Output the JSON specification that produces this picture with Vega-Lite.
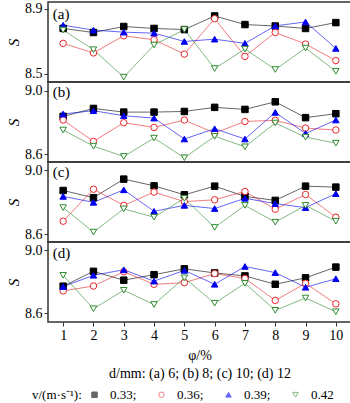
{
  "$schema": "https://vega.github.io/schema/vega-lite/v6.json",
  "padding": {"left": 5, "right": 1, "top": 1, "bottom": 0},
  "data": {"values": [
    {"d":"a","v":"0.33","phi":1,"S":8.78},{"d":"a","v":"0.33","phi":2,"S":8.755},{"d":"a","v":"0.33","phi":3,"S":8.792},{"d":"a","v":"0.33","phi":4,"S":8.78},{"d":"a","v":"0.33","phi":5,"S":8.773},{"d":"a","v":"0.33","phi":6,"S":8.857},{"d":"a","v":"0.33","phi":7,"S":8.804},{"d":"a","v":"0.33","phi":8,"S":8.795},{"d":"a","v":"0.33","phi":9,"S":8.78},{"d":"a","v":"0.33","phi":10,"S":8.816},
    {"d":"a","v":"0.36","phi":1,"S":8.688},{"d":"a","v":"0.36","phi":2,"S":8.629},{"d":"a","v":"0.36","phi":3,"S":8.735},{"d":"a","v":"0.36","phi":4,"S":8.71},{"d":"a","v":"0.36","phi":5,"S":8.622},{"d":"a","v":"0.36","phi":6,"S":8.84},{"d":"a","v":"0.36","phi":7,"S":8.608},{"d":"a","v":"0.36","phi":8,"S":8.755},{"d":"a","v":"0.36","phi":9,"S":8.684},{"d":"a","v":"0.36","phi":10,"S":8.582},
    {"d":"a","v":"0.39","phi":1,"S":8.8},{"d":"a","v":"0.39","phi":2,"S":8.77},{"d":"a","v":"0.39","phi":3,"S":8.757},{"d":"a","v":"0.39","phi":4,"S":8.751},{"d":"a","v":"0.39","phi":5,"S":8.7},{"d":"a","v":"0.39","phi":6,"S":8.714},{"d":"a","v":"0.39","phi":7,"S":8.688},{"d":"a","v":"0.39","phi":8,"S":8.796},{"d":"a","v":"0.39","phi":9,"S":8.82},{"d":"a","v":"0.39","phi":10,"S":8.657},
    {"d":"a","v":"0.42","phi":1,"S":8.77},{"d":"a","v":"0.42","phi":2,"S":8.649},{"d":"a","v":"0.42","phi":3,"S":8.48},{"d":"a","v":"0.42","phi":4,"S":8.678},{"d":"a","v":"0.42","phi":5,"S":8.773},{"d":"a","v":"0.42","phi":6,"S":8.533},{"d":"a","v":"0.42","phi":7,"S":8.653},{"d":"a","v":"0.42","phi":8,"S":8.527},{"d":"a","v":"0.42","phi":9,"S":8.659},{"d":"a","v":"0.42","phi":10,"S":8.516},
    {"d":"b","v":"0.33","phi":1,"S":8.838},{"d":"b","v":"0.33","phi":2,"S":8.888},{"d":"b","v":"0.33","phi":3,"S":8.865},{"d":"b","v":"0.33","phi":4,"S":8.865},{"d":"b","v":"0.33","phi":5,"S":8.869},{"d":"b","v":"0.33","phi":6,"S":8.895},{"d":"b","v":"0.33","phi":7,"S":8.882},{"d":"b","v":"0.33","phi":8,"S":8.93},{"d":"b","v":"0.33","phi":9,"S":8.83},{"d":"b","v":"0.33","phi":10,"S":8.855},
    {"d":"b","v":"0.36","phi":1,"S":8.815},{"d":"b","v":"0.36","phi":2,"S":8.68},{"d":"b","v":"0.36","phi":3,"S":8.798},{"d":"b","v":"0.36","phi":4,"S":8.768},{"d":"b","v":"0.36","phi":5,"S":8.815},{"d":"b","v":"0.36","phi":6,"S":8.733},{"d":"b","v":"0.36","phi":7,"S":8.806},{"d":"b","v":"0.36","phi":8,"S":8.813},{"d":"b","v":"0.36","phi":9,"S":8.764},{"d":"b","v":"0.36","phi":10,"S":8.752},
    {"d":"b","v":"0.39","phi":1,"S":8.853},{"d":"b","v":"0.39","phi":2,"S":8.874},{"d":"b","v":"0.39","phi":3,"S":8.842},{"d":"b","v":"0.39","phi":4,"S":8.827},{"d":"b","v":"0.39","phi":5,"S":8.695},{"d":"b","v":"0.39","phi":6,"S":8.76},{"d":"b","v":"0.39","phi":7,"S":8.695},{"d":"b","v":"0.39","phi":8,"S":8.863},{"d":"b","v":"0.39","phi":9,"S":8.73},{"d":"b","v":"0.39","phi":10,"S":8.815},
    {"d":"b","v":"0.42","phi":1,"S":8.752},{"d":"b","v":"0.42","phi":2,"S":8.65},{"d":"b","v":"0.42","phi":3,"S":8.585},{"d":"b","v":"0.42","phi":4,"S":8.701},{"d":"b","v":"0.42","phi":5,"S":8.577},{"d":"b","v":"0.42","phi":6,"S":8.712},{"d":"b","v":"0.42","phi":7,"S":8.646},{"d":"b","v":"0.42","phi":8,"S":8.796},{"d":"b","v":"0.42","phi":9,"S":8.707},{"d":"b","v":"0.42","phi":10,"S":8.669},
    {"d":"c","v":"0.33","phi":1,"S":8.872},{"d":"c","v":"0.33","phi":2,"S":8.827},{"d":"c","v":"0.33","phi":3,"S":8.943},{"d":"c","v":"0.33","phi":4,"S":8.901},{"d":"c","v":"0.33","phi":5,"S":8.845},{"d":"c","v":"0.33","phi":6,"S":8.899},{"d":"c","v":"0.33","phi":7,"S":8.835},{"d":"c","v":"0.33","phi":8,"S":8.81},{"d":"c","v":"0.33","phi":9,"S":8.899},{"d":"c","v":"0.33","phi":10,"S":8.893},
    {"d":"c","v":"0.36","phi":1,"S":8.68},{"d":"c","v":"0.36","phi":2,"S":8.88},{"d":"c","v":"0.36","phi":3,"S":8.779},{"d":"c","v":"0.36","phi":4,"S":8.862},{"d":"c","v":"0.36","phi":5,"S":8.802},{"d":"c","v":"0.36","phi":6,"S":8.814},{"d":"c","v":"0.36","phi":7,"S":8.866},{"d":"c","v":"0.36","phi":8,"S":8.755},{"d":"c","v":"0.36","phi":9,"S":8.847},{"d":"c","v":"0.36","phi":10,"S":8.705},
    {"d":"c","v":"0.39","phi":1,"S":8.835},{"d":"c","v":"0.39","phi":2,"S":8.798},{"d":"c","v":"0.39","phi":3,"S":8.876},{"d":"c","v":"0.39","phi":4,"S":8.742},{"d":"c","v":"0.39","phi":5,"S":8.779},{"d":"c","v":"0.39","phi":6,"S":8.759},{"d":"c","v":"0.39","phi":7,"S":8.823},{"d":"c","v":"0.39","phi":8,"S":8.79},{"d":"c","v":"0.39","phi":9,"S":8.765},{"d":"c","v":"0.39","phi":10,"S":8.852},
    {"d":"c","v":"0.42","phi":1,"S":8.765},{"d":"c","v":"0.42","phi":2,"S":8.612},{"d":"c","v":"0.42","phi":3,"S":8.757},{"d":"c","v":"0.42","phi":4,"S":8.705},{"d":"c","v":"0.42","phi":5,"S":8.823},{"d":"c","v":"0.42","phi":6,"S":8.641},{"d":"c","v":"0.42","phi":7,"S":8.779},{"d":"c","v":"0.42","phi":8,"S":8.674},{"d":"c","v":"0.42","phi":9,"S":8.779},{"d":"c","v":"0.42","phi":10,"S":8.68},
    {"d":"d","v":"0.33","phi":1,"S":8.772},{"d":"d","v":"0.33","phi":2,"S":8.866},{"d":"d","v":"0.33","phi":3,"S":8.81},{"d":"d","v":"0.33","phi":4,"S":8.845},{"d":"d","v":"0.33","phi":5,"S":8.882},{"d":"d","v":"0.33","phi":6,"S":8.856},{"d":"d","v":"0.33","phi":7,"S":8.837},{"d":"d","v":"0.33","phi":8,"S":8.784},{"d":"d","v":"0.33","phi":9,"S":8.825},{"d":"d","v":"0.33","phi":10,"S":8.893},
    {"d":"d","v":"0.36","phi":1,"S":8.742},{"d":"d","v":"0.36","phi":2,"S":8.773},{"d":"d","v":"0.36","phi":3,"S":8.864},{"d":"d","v":"0.36","phi":4,"S":8.784},{"d":"d","v":"0.36","phi":5,"S":8.794},{"d":"d","v":"0.36","phi":6,"S":8.852},{"d":"d","v":"0.36","phi":7,"S":8.821},{"d":"d","v":"0.36","phi":8,"S":8.682},{"d":"d","v":"0.36","phi":9,"S":8.79},{"d":"d","v":"0.36","phi":10,"S":8.66},
    {"d":"d","v":"0.39","phi":1,"S":8.769},{"d":"d","v":"0.39","phi":2,"S":8.841},{"d":"d","v":"0.39","phi":3,"S":8.876},{"d":"d","v":"0.39","phi":4,"S":8.804},{"d":"d","v":"0.39","phi":5,"S":8.872},{"d":"d","v":"0.39","phi":6,"S":8.784},{"d":"d","v":"0.39","phi":7,"S":8.897},{"d":"d","v":"0.39","phi":8,"S":8.858},{"d":"d","v":"0.39","phi":9,"S":8.765},{"d":"d","v":"0.39","phi":10,"S":8.819},
    {"d":"d","v":"0.42","phi":1,"S":8.841},{"d":"d","v":"0.42","phi":2,"S":8.629},{"d":"d","v":"0.42","phi":3,"S":8.746},{"d":"d","v":"0.42","phi":4,"S":8.656},{"d":"d","v":"0.42","phi":5,"S":8.825},{"d":"d","v":"0.42","phi":6,"S":8.664},{"d":"d","v":"0.42","phi":7,"S":8.79},{"d":"d","v":"0.42","phi":8,"S":8.619},{"d":"d","v":"0.42","phi":9,"S":8.697},{"d":"d","v":"0.42","phi":10,"S":8.61}
  ]},
  "bounds": "flush",
  "vconcat": [
    {
      "width": 303, "height": 80,
      "layer": [
        {"transform": [{"filter": "datum.d == 'a'"}], "mark": {"type": "line", "strokeWidth": 1, "opacity": 0.6},
         "encoding": {"x": {"field": "phi", "type": "quantitative", "scale": {"domain": [0.5, 10.5], "nice": false}, "axis": null},
                      "y": {"field": "S", "type": "quantitative", "scale": {"domain": [8.45, 8.943], "nice": false, "zero": false}, "axis": {"values": [8.5, 8.7, 8.9], "format": ".1f", "title": "S"}},
                      "stroke": {"field": "v", "type": "nominal", "title": "v/(m·s⁻¹):", "scale": {"domain": ["0.33","0.36","0.39","0.42"], "range": ["#000000", "#e8262a", "#0000f0", "#2e8b2e"]}, "legend": {"labelExpr": "datum.label == '0.42' ? datum.label : datum.label + ';'"}}, "detail": {"field": "v"}}},
        {"transform": [{"filter": "datum.d == 'a'"}], "mark": {"type": "point", "size": 42, "strokeWidth": 1, "opacity": 1, "filled": false},
         "encoding": {"x": {"field": "phi", "type": "quantitative", "axis": null}, "y": {"field": "S", "type": "quantitative"},
                      "stroke": {"field": "v", "type": "nominal", "title": "v/(m·s⁻¹):", "legend": {"labelExpr": "datum.label == '0.42' ? datum.label : datum.label + ';'"}},
                      "fill": {"field": "v", "type": "nominal", "title": "v/(m·s⁻¹):", "scale": {"domain": ["0.33","0.36","0.39","0.42"], "range": ["#000000", "#ffffff", "#0000f0", "#ffffff"]}, "legend": {"labelExpr": "datum.label == '0.42' ? datum.label : datum.label + ';'"}},
                      "shape": {"field": "v", "type": "nominal", "title": "v/(m·s⁻¹):", "scale": {"domain": ["0.33","0.36","0.39","0.42"], "range": ["square", "circle", "triangle-up", "triangle-down"]}, "legend": {"labelExpr": "datum.label == '0.42' ? datum.label : datum.label + ';'"}}}},
        {"data": {"values": [{"lab": "(a)"}]}, "mark": {"type": "text", "align": "left", "baseline": "middle", "fontSize": 15, "color": "black"},
         "encoding": {"x": {"datum": 0.66}, "y": {"datum": 8.872}, "text": {"field": "lab"}}}
      ]
    },
    {
      "width": 303, "height": 80,
      "layer": [
        {"transform": [{"filter": "datum.d == 'b'"}], "mark": {"type": "line", "strokeWidth": 1, "opacity": 0.6},
         "encoding": {"x": {"field": "phi", "type": "quantitative", "scale": {"domain": [0.5, 10.5], "nice": false}, "axis": null},
                      "y": {"field": "S", "type": "quantitative", "scale": {"domain": [8.55, 9.055], "nice": false, "zero": false}, "axis": {"values": [8.6, 8.8, 9.0], "format": ".1f", "title": "S"}},
                      "stroke": {"field": "v", "type": "nominal", "title": "v/(m·s⁻¹):"}, "detail": {"field": "v"}}},
        {"transform": [{"filter": "datum.d == 'b'"}], "mark": {"type": "point", "size": 42, "strokeWidth": 1, "opacity": 1, "filled": false},
         "encoding": {"x": {"field": "phi", "type": "quantitative", "axis": null}, "y": {"field": "S", "type": "quantitative"},
                      "stroke": {"field": "v", "type": "nominal", "title": "v/(m·s⁻¹):"}, "fill": {"field": "v", "type": "nominal", "title": "v/(m·s⁻¹):"}, "shape": {"field": "v", "type": "nominal", "title": "v/(m·s⁻¹):"}}},
        {"data": {"values": [{"lab": "(b)"}]}, "mark": {"type": "text", "align": "left", "baseline": "middle", "fontSize": 15, "color": "black"},
         "encoding": {"x": {"datum": 0.66}, "y": {"datum": 8.99}, "text": {"field": "lab"}}}
      ]
    },
    {
      "width": 303, "height": 80,
      "layer": [
        {"transform": [{"filter": "datum.d == 'c'"}], "mark": {"type": "line", "strokeWidth": 1, "opacity": 0.6},
         "encoding": {"x": {"field": "phi", "type": "quantitative", "scale": {"domain": [0.5, 10.5], "nice": false}, "axis": null},
                      "y": {"field": "S", "type": "quantitative", "scale": {"domain": [8.55, 9.05], "nice": false, "zero": false}, "axis": {"values": [8.6, 8.8, 9.0], "format": ".1f", "title": "S"}},
                      "stroke": {"field": "v", "type": "nominal", "title": "v/(m·s⁻¹):"}, "detail": {"field": "v"}}},
        {"transform": [{"filter": "datum.d == 'c'"}], "mark": {"type": "point", "size": 42, "strokeWidth": 1, "opacity": 1, "filled": false},
         "encoding": {"x": {"field": "phi", "type": "quantitative", "axis": null}, "y": {"field": "S", "type": "quantitative"},
                      "stroke": {"field": "v", "type": "nominal", "title": "v/(m·s⁻¹):"}, "fill": {"field": "v", "type": "nominal", "title": "v/(m·s⁻¹):"}, "shape": {"field": "v", "type": "nominal", "title": "v/(m·s⁻¹):"}}},
        {"data": {"values": [{"lab": "(c)"}]}, "mark": {"type": "text", "align": "left", "baseline": "middle", "fontSize": 15, "color": "black"},
         "encoding": {"x": {"datum": 0.66}, "y": {"datum": 8.99}, "text": {"field": "lab"}}}
      ]
    },
    {
      "width": 303, "height": 80,
      "layer": [
        {"transform": [{"filter": "datum.d == 'd'"}], "mark": {"type": "line", "strokeWidth": 1, "opacity": 0.6},
         "encoding": {"x": {"field": "phi", "type": "quantitative", "scale": {"domain": [0.5, 10.5], "nice": false},
                            "axis": {"values": [1,2,3,4,5,6,7,8,9,10], "tickCount": 10, "format": "d", "labelOverlap": false, "labelFlush": false, "title": ["φ/%", "d/mm: (a) 6; (b) 8; (c) 10; (d) 12\u00a0\u00a0\u00a0\u00a0\u00a0\u00a0\u00a0\u00a0\u00a0\u00a0\u00a0"], "titleFontStyle": "normal", "titleLineHeight": 18, "titlePadding": 6, "titleFontSize": 14}},
                      "y": {"field": "S", "type": "quantitative", "scale": {"domain": [8.545, 9.052], "nice": false, "zero": false}, "axis": {"values": [8.6, 8.8, 9.0], "format": ".1f", "title": "S"}},
                      "stroke": {"field": "v", "type": "nominal", "title": "v/(m·s⁻¹):"}, "detail": {"field": "v"}}},
        {"transform": [{"filter": "datum.d == 'd'"}], "mark": {"type": "point", "size": 42, "strokeWidth": 1, "opacity": 1, "filled": false},
         "encoding": {"x": {"field": "phi", "type": "quantitative", "axis": {"values": [1,2,3,4,5,6,7,8,9,10], "tickCount": 10, "format": "d", "labelOverlap": false, "labelFlush": false, "title": ["φ/%", "d/mm: (a) 6; (b) 8; (c) 10; (d) 12\u00a0\u00a0\u00a0\u00a0\u00a0\u00a0\u00a0\u00a0\u00a0\u00a0\u00a0"], "titleFontStyle": "normal", "titleLineHeight": 18, "titlePadding": 6, "titleFontSize": 14}}, "y": {"field": "S", "type": "quantitative"},
                      "stroke": {"field": "v", "type": "nominal", "title": "v/(m·s⁻¹):"}, "fill": {"field": "v", "type": "nominal", "title": "v/(m·s⁻¹):"}, "shape": {"field": "v", "type": "nominal", "title": "v/(m·s⁻¹):"}}},
        {"data": {"values": [{"lab": "(d)"}]}, "mark": {"type": "text", "align": "left", "baseline": "middle", "fontSize": 15, "color": "black"},
         "encoding": {"x": {"datum": 0.66}, "y": {"datum": 8.98}, "text": {"field": "lab"}}}
      ]
    }
  ],
  "resolve": {"scale": {"stroke": "shared", "fill": "shared", "shape": "shared"}},
  "config": {
    "font": "Liberation Serif",
    "view": {"stroke": "#333333", "strokeWidth": 1.5},
    "concat": {"spacing": 0},
    "axis": {"labelFontSize": 14, "labelColor": "#000", "tickColor": "#333", "tickSize": 4, "labelPadding": 2, "domain": false, "grid": false,
             "titleFontWeight": "normal", "titleColor": "#000"},
    "axisX": {"labelOverlap": false, "labelFlush": false},
    "axisY": {"titleFontStyle": "italic", "titleFontSize": 15, "titlePadding": 3},
    "legend": {"orient": "none", "legendX": -16, "legendY": 386, "direction": "horizontal", "titleOrient": "left", "columns": 4,
               "titleFontSize": 13, "titleFontWeight": "normal", "titleColor": "#000", "titlePadding": 6,
               "labelFontSize": 13, "labelColor": "#000", "labelOffset": 9,
               "symbolSize": 30, "symbolStrokeWidth": 1, "columnPadding": 18}
  }
}
